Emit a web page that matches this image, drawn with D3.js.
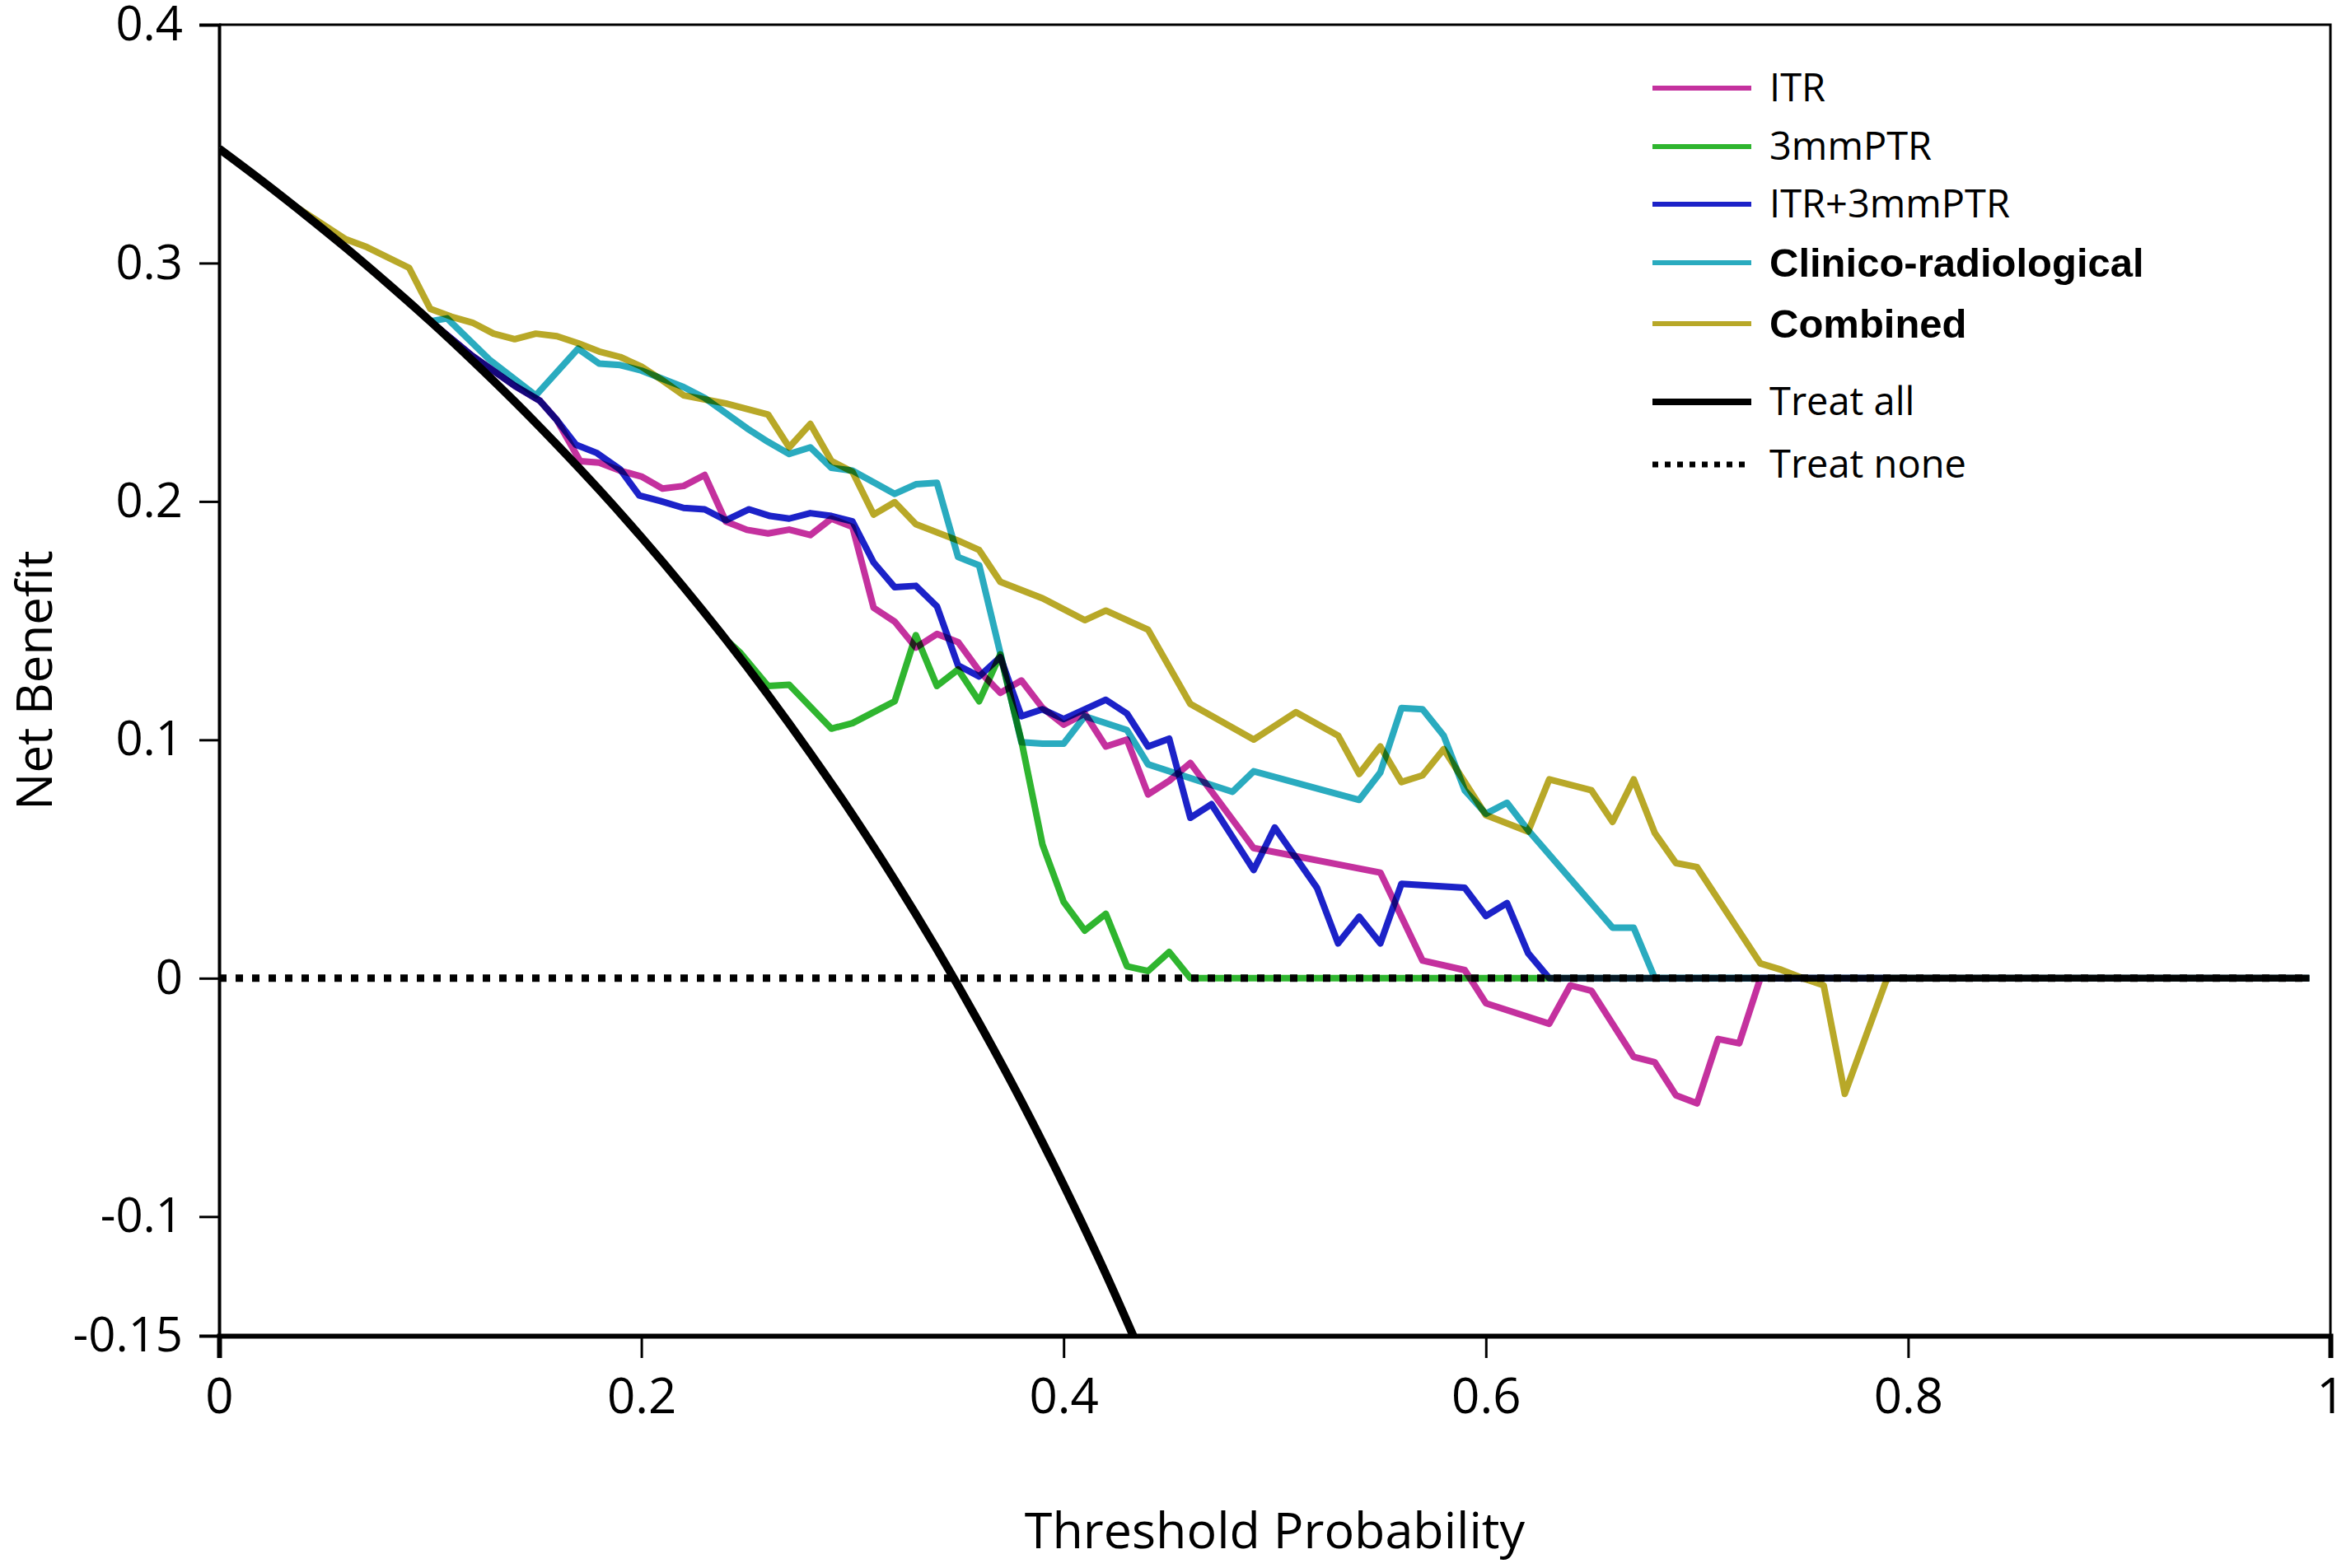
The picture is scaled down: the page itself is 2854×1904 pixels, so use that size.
<!DOCTYPE html>
<html>
<head>
<meta charset="utf-8">
<script src="https://cdn.jsdelivr.net/npm/d3@7"></script>
<style>
  html, body { margin: 0; padding: 0; background: #fff; }
  svg { display: block; }
  .tick text { font-family: "Open Sans", sans-serif; }
</style>
</head>
<body>
<svg id="chart" width="2854" height="1904"></svg>
<script>
// ---------- data ----------
const xTicks = [0, 0.2, 0.4, 0.6, 0.8, 1];
const xTickLabels = ["0", "0.2", "0.4", "0.6", "0.8", "1"];
const yTicks = [0.4, 0.3, 0.2, 0.1, 0, -0.1, -0.15];
const yTickLabels = ["0.4", "0.3", "0.2", "0.1", "0", "-0.1", "-0.15"];

const seriesNames = ["ITR", "3mmPTR", "ITR+3mmPTR", "Clinico-radiological", "Combined", "Treat all", "Treat none"];
const seriesColors = ["#c4319e", "#2fb52f", "#1c22c8", "#2aabbf", "#b8a828", "#000000", "#000000"];
const seriesBold = [false, false, false, true, true, false, false];

const itr = [[0,0.348],[0.02,0.3347],[0.04,0.3208],[0.06,0.3064],[0.08,0.2913],[0.10,0.2756],[0.12,0.261],[0.14,0.2485],[0.152,0.2422],[0.16,0.2341],[0.171,0.2169],[0.18,0.2163],[0.19,0.2129],[0.20,0.2105],[0.21,0.2054],[0.22,0.2065],[0.23,0.2111],[0.24,0.1916],[0.25,0.1881],[0.26,0.1866],[0.27,0.1882],[0.28,0.1859],[0.29,0.1928],[0.30,0.1893],[0.31,0.1554],[0.32,0.1496],[0.33,0.1387],[0.34,0.1444],[0.35,0.141],[0.36,0.1289],[0.37,0.1197],[0.38,0.1249],[0.39,0.1134],[0.40,0.1064],[0.41,0.111],[0.42,0.0972],[0.43,0.1001],[0.44,0.0771],[0.45,0.0828],[0.46,0.0903],[0.49,0.0546],[0.55,0.0443],[0.57,0.0074],[0.59,0.0034],[0.60,-0.0105],[0.63,-0.0191],[0.64,-0.003],[0.65,-0.0053],[0.67,-0.033],[0.68,-0.0353],[0.69,-0.0491],[0.70,-0.0525],[0.71,-0.0255],[0.72,-0.0273],[0.73,0],[0.99,0]];

const ptr3mm = [[0,0.348],[0.02,0.3347],[0.04,0.3208],[0.06,0.3064],[0.08,0.2913],[0.10,0.2756],[0.12,0.2591],[0.14,0.2419],[0.16,0.2238],[0.18,0.2049],[0.20,0.185],[0.22,0.1641],[0.24,0.1421],[0.247,0.1364],[0.26,0.1226],[0.27,0.1231],[0.29,0.1047],[0.30,0.107],[0.32,0.1162],[0.33,0.1439],[0.34,0.1226],[0.35,0.1295],[0.36,0.1162],[0.37,0.1358],[0.38,0.0995],[0.39,0.056],[0.40,0.032],[0.41,0.020],[0.42,0.027],[0.43,0.005],[0.44,0.003],[0.45,0.011],[0.46,0],[0.99,0]];

const itrPtr = [[0,0.348],[0.02,0.3347],[0.04,0.3208],[0.06,0.3064],[0.08,0.2913],[0.10,0.2756],[0.12,0.261],[0.14,0.2485],[0.152,0.2422],[0.16,0.2341],[0.169,0.2238],[0.179,0.2203],[0.19,0.2134],[0.199,0.2025],[0.209,0.2002],[0.22,0.1973],[0.23,0.1967],[0.24,0.1921],[0.251,0.1967],[0.261,0.1939],[0.27,0.1928],[0.28,0.1951],[0.29,0.1939],[0.30,0.1916],[0.31,0.1744],[0.32,0.164],[0.33,0.1646],[0.34,0.156],[0.35,0.1312],[0.36,0.1266],[0.37,0.1347],[0.38,0.1099],[0.39,0.1128],[0.40,0.1087],[0.42,0.1168],[0.43,0.111],[0.44,0.0972],[0.45,0.1005],[0.46,0.0673],[0.47,0.073],[0.49,0.0454],[0.50,0.0632],[0.52,0.0379],[0.53,0.0146],[0.54,0.0258],[0.55,0.0146],[0.56,0.0396],[0.59,0.0379],[0.60,0.0261],[0.61,0.0315],[0.62,0.0105],[0.63,0],[0.99,0]];

const clinico = [[0,0.348],[0.02,0.3347],[0.04,0.3208],[0.06,0.3064],[0.08,0.2913],[0.10,0.2756],[0.108,0.2768],[0.128,0.2595],[0.15,0.2445],[0.17,0.2641],[0.18,0.2578],[0.19,0.2572],[0.20,0.2549],[0.22,0.248],[0.23,0.2434],[0.25,0.2307],[0.26,0.225],[0.27,0.2199],[0.28,0.2227],[0.29,0.2141],[0.30,0.2129],[0.32,0.2032],[0.33,0.2072],[0.34,0.2078],[0.35,0.1767],[0.36,0.1732],[0.37,0.1364],[0.38,0.099],[0.39,0.0984],[0.40,0.0984],[0.41,0.1099],[0.43,0.1041],[0.44,0.0897],[0.48,0.0782],[0.49,0.0868],[0.54,0.0748],[0.55,0.0863],[0.56,0.1133],[0.57,0.1128],[0.58,0.1018],[0.59,0.0788],[0.60,0.069],[0.61,0.0736],[0.62,0.0621],[0.66,0.0212],[0.67,0.0212],[0.68,0],[0.99,0]];

const combined = [[0,0.348],[0.02,0.3347],[0.035,0.3244],[0.06,0.310],[0.07,0.3067],[0.09,0.298],[0.10,0.2808],[0.11,0.2775],[0.12,0.275],[0.13,0.2704],[0.14,0.2681],[0.15,0.2704],[0.16,0.2693],[0.17,0.2664],[0.18,0.2629],[0.19,0.2606],[0.20,0.2566],[0.21,0.2508],[0.22,0.2445],[0.23,0.2428],[0.24,0.2411],[0.25,0.2388],[0.26,0.2365],[0.27,0.2227],[0.28,0.2325],[0.29,0.217],[0.30,0.2124],[0.31,0.1945],[0.32,0.1997],[0.33,0.1905],[0.35,0.1836],[0.36,0.1796],[0.37,0.1663],[0.39,0.1594],[0.41,0.1502],[0.42,0.1542],[0.44,0.1462],[0.46,0.1151],[0.49,0.1001],[0.51,0.1116],[0.53,0.1018],[0.54,0.0857],[0.55,0.0972],[0.56,0.0823],[0.57,0.0851],[0.58,0.0961],[0.60,0.0684],[0.62,0.0615],[0.63,0.0834],[0.65,0.0788],[0.66,0.0656],[0.67,0.0834],[0.68,0.0609],[0.69,0.0483],[0.70,0.0466],[0.73,0.0062],[0.74,0.0035],[0.75,0],[0.76,-0.003],[0.77,-0.0485],[0.79,0],[0.99,0]];

const treatAll = [[0,0.348],[0.02,0.3347],[0.04,0.3208],[0.06,0.3064],[0.08,0.2913],[0.10,0.2756],[0.12,0.2591],[0.14,0.2419],[0.16,0.2238],[0.18,0.2049],[0.20,0.185],[0.22,0.1641],[0.24,0.1421],[0.26,0.1189],[0.28,0.0944],[0.30,0.0686],[0.32,0.0412],[0.34,0.0121],[0.36,-0.0188],[0.38,-0.0516],[0.40,-0.0867],[0.42,-0.1241],[0.44,-0.1643]];

const treatNone = [[0,0],[0.99,0]];

// ---------- layout ----------
const svg = d3.select("#chart");
const W = 2854, H = 1904;
const mLeft = 266, mRight = 2829, mTop = 30, mBottom = 1622;

svg.append("rect").attr("width", W).attr("height", H).attr("fill", "#fff");

const x = d3.scaleLinear().domain([0, 1]).range([mLeft, mRight]);
const y = d3.scaleLinear().domain([-0.15, 0.4]).range([mBottom, mTop]);

svg.append("clipPath").attr("id", "plotclip")
  .append("rect").attr("x", mLeft).attr("y", mTop)
  .attr("width", mRight - mLeft).attr("height", mBottom - mTop);

// frame (top and right)
svg.append("path")
  .attr("d", `M${mLeft},${mTop}H${mRight}V${mBottom}`)
  .attr("fill", "none").attr("stroke", "#000").attr("stroke-width", 3);

// axes
const yAxis = d3.axisLeft(y).tickValues(yTicks)
  .tickFormat((d, i) => yTickLabels[i]).tickSize(24).tickPadding(20);
const gy = svg.append("g").attr("transform", `translate(${mLeft},0)`).call(yAxis);
gy.select(".domain").attr("stroke-width", 4);
gy.selectAll(".tick line").attr("stroke-width", 3);
gy.selectAll(".tick text").attr("font-size", 58).attr("fill", "#000");

const xAxis = d3.axisBottom(x).tickValues(xTicks)
  .tickFormat((d, i) => xTickLabels[i]).tickSize(27).tickPadding(24);
const gx = svg.append("g").attr("transform", `translate(0,${mBottom})`).call(xAxis);
gx.select(".domain").attr("stroke-width", 6);
gx.selectAll(".tick line").attr("stroke-width", 3);
gx.selectAll(".tick text").attr("font-size", 60).attr("fill", "#000");

// axis titles
svg.append("text")
  .attr("x", (mLeft + mRight) / 2).attr("y", 1880)
  .attr("text-anchor", "middle")
  .attr("font-family", "'Open Sans', sans-serif").attr("font-size", 61)
  .text("Threshold Probability");
svg.append("text")
  .attr("transform", `translate(63,${(mTop + mBottom) / 2}) rotate(-90)`)
  .attr("text-anchor", "middle")
  .attr("font-family", "'Open Sans', sans-serif").attr("font-size", 60)
  .text("Net Benefit");

// lines
const plot = svg.append("g").attr("clip-path", "url(#plotclip)");
const line = d3.line().x(d => x(d[0])).y(d => y(d[1]));
const smooth = d3.line().curve(d3.curveMonotoneX).x(d => x(d[0])).y(d => y(d[1]));

plot.append("path").datum(treatAll).attr("d", smooth)
  .attr("fill", "none").attr("stroke", "#000").attr("stroke-width", 10);

plot.append("path").datum(treatNone).attr("d", line)
  .attr("fill", "none").attr("stroke", "#000").attr("stroke-width", 9)
  .attr("stroke-dasharray", "9 11");

const modelSeries = [itr, ptr3mm, itrPtr, clinico, combined];
modelSeries.forEach((s, i) => {
  plot.append("path").datum(s).attr("d", line)
    .attr("fill", "none").attr("stroke", seriesColors[i])
    .attr("stroke-width", 8).attr("stroke-linejoin", "round")
    .style("mix-blend-mode", "multiply");
});

// legend
const legendY = [107, 178, 248, 319, 393, 488, 564];
const lg = svg.append("g");
seriesNames.forEach((name, i) => {
  const row = lg.append("g").attr("transform", `translate(0,${legendY[i]})`);
  const ln = row.append("line").attr("x1", 2006).attr("x2", 2126).attr("y1", 0).attr("y2", 0)
    .attr("stroke", seriesColors[i]);
  if (i < 5) ln.attr("stroke-width", 6);
  else if (i === 5) ln.attr("stroke-width", 8);
  else ln.attr("stroke-width", 7).attr("stroke-dasharray", "7 8");
  row.append("text").attr("x", 2148).attr("y", 0).attr("dy", "0.35em")
    .attr("font-family", seriesBold[i] ? "'Liberation Sans', Arial, sans-serif" : "'Open Sans', sans-serif")
    .attr("font-weight", seriesBold[i] ? "bold" : "normal")
    .attr("font-size", seriesBold[i] ? 49 : 47)
    .text(name);
});
</script>
</body>
</html>
